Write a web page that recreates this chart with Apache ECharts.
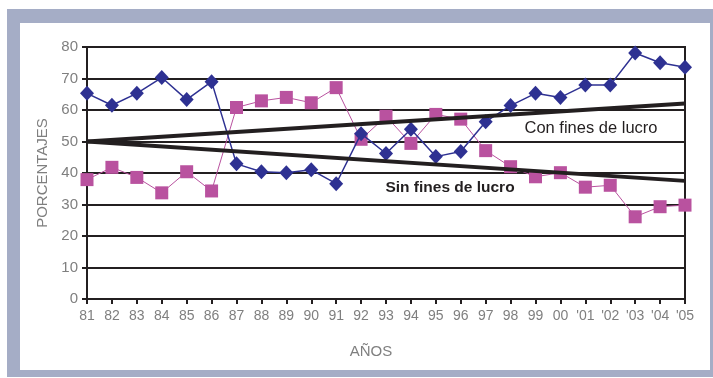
<!DOCTYPE html>
<html>
<head>
<meta charset="utf-8">
<script src="https://cdn.jsdelivr.net/npm/echarts@6/dist/echarts.min.js"></script>
<style>
html,body{margin:0;padding:0;background:#fff;}
#c{width:713px;height:378px;}
</style>
</head>
<body>
<div id="c"></div>
<script>
const years = ['81','82','83','84','85','86','87','88','89','90','91','92','93','94','95','96','97','98','99','00',"'01","'02","'03","'04","'05"];
const conFines = [65.3,61.5,65.3,70.3,63.3,69.0,42.9,40.4,40.1,41.0,36.6,52.5,46.2,53.9,45.2,46.8,56.3,61.4,65.3,64.0,67.9,67.9,78.1,75.0,73.6];
const sinFines = [37.9,41.8,38.6,33.7,40.4,34.3,60.8,62.9,64.0,62.3,67.1,50.7,58.0,49.4,58.6,57.1,47.1,42.0,38.8,40.1,35.5,36.1,26.1,29.3,29.8];
const trendConEnds = [50, 62.1];
const trendSinEnds = [50, 37.5];
const yTicks = [0,10,20,30,40,50,60,70,80];

const chart = echarts.init(document.getElementById('c'), null, {renderer:'canvas'});
const dark = '#231f20';
const gray = '#7f7f7f';
const font = 'Liberation Sans, Arial, sans-serif';
const last = years.length - 1;

chart.setOption({
  animation:false,
  backgroundColor:'#fff',
  grid:{left:87, right:28, top:47, bottom:79, show:true, borderColor:dark, borderWidth:2, backgroundColor:'transparent'},
  graphic:[
    {type:'rect', z:-10, silent:true, shape:{x:7,y:9,width:706,height:368}, style:{fill:'#a5adc6'}},
    {type:'rect', z:-9, silent:true, shape:{x:20,y:23,width:690,height:347}, style:{fill:'#ffffff'}},
    {type:'text', z:10, x:43, y:173, rotation:Math.PI/2, style:{text:'PORCENTAJES', fill:gray, font:'15px '+font, textAlign:'center', textVerticalAlign:'middle'}},
    {type:'text', z:10, x:371, y:352, style:{text:'AÑOS', fill:gray, font:'15px '+font, textAlign:'center', textVerticalAlign:'middle'}},
    {type:'text', z:10, x:591, y:128, style:{text:'Con fines de lucro', fill:dark, font:'500 16.5px '+font, textAlign:'center', textVerticalAlign:'middle'}},
    {type:'text', z:10, x:450, y:188, style:{text:'Sin fines de lucro', fill:dark, font:'bold 15.5px '+font, textAlign:'center', textVerticalAlign:'middle'}}
  ],
  xAxis:{
    type:'category', data:years, boundaryGap:false,
    axisLine:{show:true, lineStyle:{color:dark, width:2}},
    axisTick:{show:true, length:5, lineStyle:{color:dark, width:2}},
    axisLabel:{color:gray, fontSize:14, fontFamily:font, margin:10, interval:0},
    splitLine:{show:false}
  },
  yAxis:{
    type:'value', min:yTicks[0], max:yTicks[yTicks.length-1], interval:10,
    axisLine:{show:true, lineStyle:{color:dark, width:2}},
    axisTick:{show:true, length:5, lineStyle:{color:dark, width:2}},
    axisLabel:{color:gray, fontSize:15, fontFamily:font, margin:9},
    splitLine:{show:true, lineStyle:{color:dark, width:2}}
  },
  series:[
    {name:'Con fines de lucro (datos)', type:'line', data:conFines, symbol:'diamond', symbolSize:[14,15],
     lineStyle:{color:'#2e3192', width:1.5}, itemStyle:{color:'#2e3192'}, z:3},
    {name:'Sin fines de lucro (datos)', type:'line', data:sinFines, symbol:'rect', symbolSize:13,
     lineStyle:{color:'#b9529f', width:1}, itemStyle:{color:'#b9529f'}, z:2},
    {name:'Tendencia con fines', type:'line', data:[[years[0],trendConEnds[0]],[years[last],trendConEnds[1]]], symbol:'none',
     lineStyle:{color:dark, width:4}, z:5},
    {name:'Tendencia sin fines', type:'line', data:[[years[0],trendSinEnds[0]],[years[last],trendSinEnds[1]]], symbol:'none',
     lineStyle:{color:dark, width:4}, z:5}
  ]
});
</script>
</body>
</html>
